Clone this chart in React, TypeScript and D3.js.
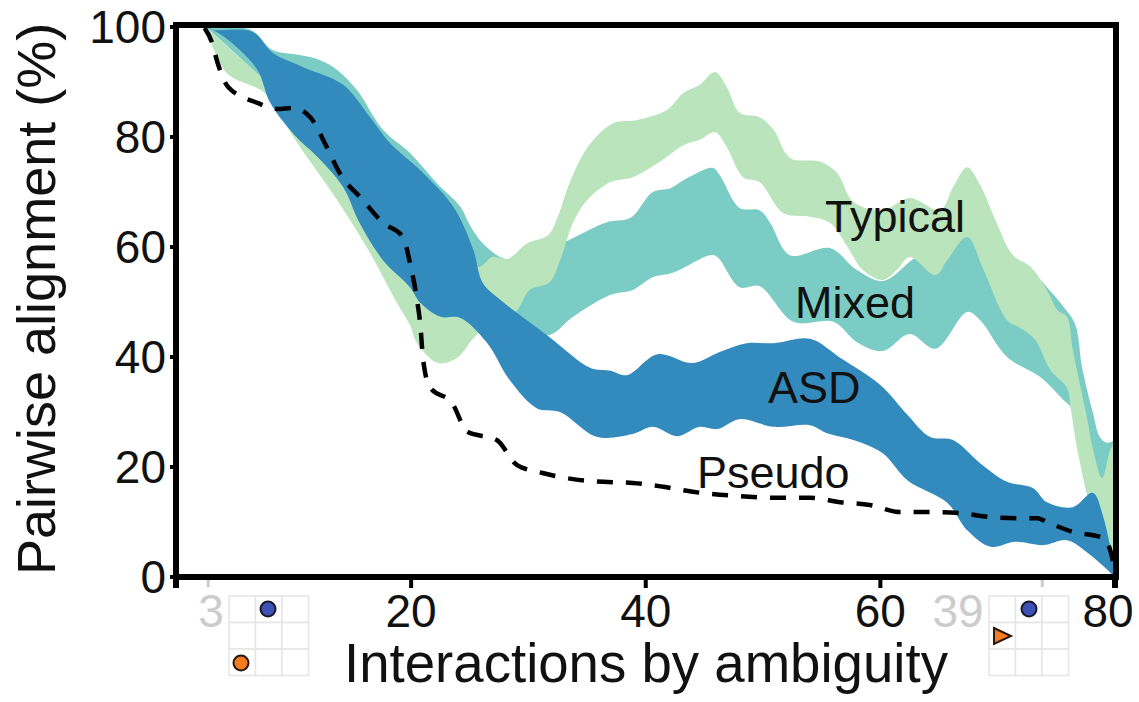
import React from "react";
import * as d3 from "d3";

type P = [number, number];

const typicalUpper: P[] = [[2.5,100],[10,86],[20,71],[25.7,56.4],[26.9,58.2],[28.2,57.8],[29.9,60.7],[31.7,62.2],[32.5,65.5],[33.5,71.6],[35,78],[37.2,82.5],[39.3,83.1],[41.8,84.9],[43.2,88],[44.6,89.5],[45.9,91.8],[46.9,89.1],[48,84.4],[49.7,83.6],[50.9,81.3],[52.3,76.2],[54.9,75.5],[56.3,73.5],[57.7,68.2],[60.2,66.7],[62.5,68.9],[65.1,66.7],[66.2,70.9],[67.4,74.5],[68.5,71.3],[69.9,64.4],[71.3,58.5],[72.8,56.4],[74.2,52.2],[75.1,48.5],[75.9,47.3],[76.4,41.3],[77.6,29.1],[78.1,23.5],[78.9,18],[79.6,23.1],[80,24.5]];
const typicalLower: P[] = [[2.5,100],[4.3,91.6],[7.4,88.2],[8.8,84],[10.3,78.9],[13.7,68.5],[16.5,58.9],[18.8,49.8],[19.9,45.8],[20.5,42.5],[22.3,38.9],[23.9,39.8],[25.4,43.6],[27.2,46.7],[28.9,48.2],[30.1,52.2],[31.8,53.6],[32.7,57.6],[33.8,64.4],[35,68.5],[37,71.8],[38.9,72.7],[41.2,75.5],[43.2,78.5],[44.6,79.5],[45.9,80.9],[46.9,78.2],[48.3,72.7],[49.7,71.8],[51.7,66.2],[54,65.5],[55.7,64.4],[57.2,60],[58.5,55.8],[60.2,54],[61.4,55.8],[62.5,58.2],[64.7,54.9],[65.7,57.6],[67.4,61.8],[68.8,55.8],[70.8,46.7],[71.9,45.3],[73.2,43.1],[74.5,37.6],[75.9,34.4],[76.2,31],[76.8,23],[77.6,15.3],[78.3,6.7],[80,0]];
const mixedUpper: P[] = [[2.5,100],[6.3,99.5],[8.2,95.8],[10.5,94.9],[12.2,94],[13.7,92.2],[15.4,88.5],[17.6,81.3],[19.9,77.1],[22.2,71.6],[24.2,67.3],[25,64],[26.1,60.7],[28,57.8],[30.1,58],[31.8,59.5],[33.5,61.3],[36.7,64.5],[38.7,65.3],[40.6,70],[42.1,70.7],[43.5,72.5],[45.7,74.4],[46.3,73.1],[48,67.1],[49.7,66.7],[50.6,64.4],[52.3,58.5],[55.7,59.8],[58,55.8],[60.2,53.8],[62.5,57.3],[65.9,64],[67.4,69.5],[68.9,67.6],[71.3,58],[72.8,55.8],[74.2,52.7],[75.6,49.2],[76.6,46],[77.2,38],[78.1,30],[78.7,25.5],[79.3,24.4],[80,24.9]];
const mixedLower: P[] = [[2.5,100],[10,85],[20,60],[26,52],[29,45],[31.8,44],[33.8,47.3],[37,51.3],[38.9,52.2],[40.6,54.5],[42.3,55.3],[45.5,58.5],[46.1,58.2],[48,52.7],[49.7,52.9],[52.6,46.4],[56,46.4],[58,42.7],[60.2,41.1],[62.5,44.2],[64.7,41.5],[67.4,48.2],[68.5,46.7],[70.8,40],[73.6,36.4],[75.6,32.2],[76.2,30.9],[77,21.3],[77.6,15.3],[78.7,6.7],[80,0]];
const asdUpper: P[] = [[2.5,100],[3.1,99.5],[6.5,99.1],[8.2,95.3],[10.8,92.7],[14.2,89.5],[16.5,83.6],[18.2,78.9],[21,73.5],[23.6,67.3],[25.3,59.5],[26.1,53.5],[27.6,50.4],[31.8,43.6],[35.3,38],[37,37.5],[38.4,36.7],[41,40.5],[44,38.9],[46.3,40.9],[48.6,42.5],[50.9,42.5],[54,43.3],[56.6,39.8],[60,34.9],[62.3,29.5],[64.2,25.5],[66.2,24.9],[68.5,20.7],[70.8,17.3],[73,16.2],[74.2,13.6],[76.4,12.7],[78.1,15.3],[79,10.9],[80,0.9]];
const asdLower: P[] = [[2.5,100],[3.1,99.5],[4.6,97.3],[6.9,92.2],[8,86.2],[10.3,79.8],[12,76.4],[14.2,70.9],[15.6,64.4],[17.6,57.6],[19.9,52.7],[20.8,49.8],[22.5,47.3],[24.2,47.1],[26.5,42.5],[28.4,35.8],[30.7,30.7],[32.7,30],[35.8,25.5],[38.9,26],[40.6,27.3],[42.7,25.6],[44.6,27.3],[46.1,26.9],[48,28.7],[50.9,27.3],[54,27.6],[55.4,26.2],[57.7,24.9],[60.2,22.5],[62.3,17.6],[65.7,13.5],[67.4,8.5],[69.4,5.5],[71.5,6.4],[73.9,5.8],[75.9,6.7],[77.9,4],[80,0]];
const pseudoLine: P[] = [[2.4,99.8],[3,97.3],[3.5,93.5],[4.4,89.1],[6.9,86.2],[8.6,85.1],[9.9,85.3],[11.4,83.6],[12.8,78.2],[13.9,73.5],[15.9,68.5],[17.6,64.4],[19.3,61.8],[19.9,57.1],[20.5,50.4],[20.8,45.5],[21,40],[21.6,34.5],[23.5,31.6],[24.8,26.4],[27.3,24.9],[29,20.4],[31.2,18.9],[33.8,17.8],[36.4,17.3],[38.9,17.1],[41.5,16.4],[44,15.5],[48,14.7],[51.4,14.4],[54,14.4],[56.6,13.6],[59.1,13.1],[61.7,11.8],[64.2,11.8],[66.8,11.6],[69.4,10.9],[71.7,10.7],[73.4,10.7],[74.2,10],[76.4,8.2],[79,7.1],[79.8,3.1],[79.9,0.7]];

const xTicks = [20, 40, 60, 80];
const yTicks = [0, 20, 40, 60, 80, 100];
const grayTicks = [2.7, 73.8];
const seriesColors = { typical: "#bae4bc", mixed: "#7bccc4", asd: "#338abd" };

const FONT = "'Liberation Sans', Arial, sans-serif";
const x = d3.scaleLinear().domain([0, 80]).range([176.5, 1115]);
const y = d3.scaleLinear().domain([0, 100]).range([577, 27]);
const smooth = d3.line<P>().x((d) => x(d[0])).y((d) => y(d[1])).curve(d3.curveCatmullRom.alpha(0.5));
const dashed = d3.line<P>().x((d) => x(d[0])).y((d) => y(d[1])).curve(d3.curveMonotoneX);
const band = (up: P[], low: P[]) => smooth(up)! + "L" + smooth([...low].reverse())!.slice(1) + "Z";

function Grid({ left }: { left: number }) {
  const step = 26.5;
  return (
    <g stroke="#e6e6e6" strokeWidth={1.6} fill="none">
      {d3.range(3).map((r) =>
        d3.range(3).map((c) => (
          <rect key={`${r}-${c}`} x={left + c * step} y={596 + r * step} width={step} height={step} fill="#fff" />
        ))
      )}
    </g>
  );
}

export default function App() {
  return (
    <svg width={1139} height={702} style={{ position: "absolute", left: 0, top: 0, background: "#fff" }} fontFamily={FONT}>
      <path d={band(mixedUpper, mixedLower)} fill={seriesColors.mixed} />
      <path d={band(typicalUpper, typicalLower)} fill={seriesColors.typical} />
      <path d={band(asdUpper, asdLower)} fill={seriesColors.asd} />
      <path d={dashed(pseudoLine)!} fill="none" stroke="#000" strokeWidth={4.5} strokeDasharray="16 13" />

      <g fontSize={45} fill="#111">
        <text x={825} y={232}>Typical</text>
        <text x={795} y={318}>Mixed</text>
        <text x={768} y={403}>ASD</text>
        <text x={697} y={488}>Pseudo</text>
      </g>

      {/* frame */}
      <rect x={176} y={25} width={940} height={552} fill="none" stroke="#000" strokeWidth={6} />
      {yTicks.map((t) => (
        <g key={t}>
          <line x1={170} x2={179} y1={y(t)} y2={y(t)} stroke="#000" strokeWidth={4} />
          <text x={166} y={y(t) + 16} textAnchor="end" fontSize={46} fill="#111">{t}</text>
        </g>
      ))}
      <line x1={176} x2={176} y1={577} y2={588} stroke="#000" strokeWidth={6} />
      {xTicks.map((t) => (
        <g key={t}>
          <line x1={x(t)} x2={x(t)} y1={577} y2={588} stroke="#000" strokeWidth={t === 80 ? 6 : 4} />
          <text x={t === 80 ? x(t) - 7 : x(t)} y={627} textAnchor="middle" fontSize={46} fill="#111">{t}</text>
        </g>
      ))}
      {grayTicks.map((t) => (
        <line key={t} x1={x(t)} x2={x(t)} y1={580} y2={587} stroke="#ccc" strokeWidth={3} />
      ))}
      <text x={211} y={627} textAnchor="middle" fontSize={46} fill="#ccc">3</text>
      <text x={958} y={627} textAnchor="middle" fontSize={46} fill="#ccc">39</text>

      <Grid left={229} />
      <Grid left={989} />
      <circle cx={268} cy={609} r={7.5} fill="#3f51b5" stroke="#1a1a2e" strokeWidth={2} />
      <circle cx={241} cy={663} r={7.5} fill="#f57c20" stroke="#2a1a0e" strokeWidth={2} />
      <circle cx={1029} cy={609} r={7.5} fill="#3f51b5" stroke="#1a1a2e" strokeWidth={2} />
      <path d={d3.line()([[994, 628], [1011, 636], [994, 644]])! + "Z"} fill="#f57c20" stroke="#2a1a0e" strokeWidth={2} />

      <text x={646} y={682} textAnchor="middle" fontSize={54.6} fill="#111">Interactions by ambiguity</text>
      <text transform="translate(55,575) rotate(-90)" fontSize={54} fill="#111">Pairwise alignment (%)</text>
    </svg>
  );
}
